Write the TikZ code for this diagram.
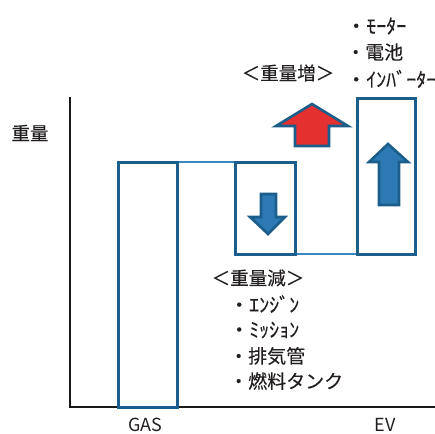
\documentclass[tikz,border=0pt]{standalone}
\usepackage{fontspec}
\newfontfamily\jp[FakeBold=0.15]{Noto Sans CJK JP}
\newfontfamily\lat{Noto Sans CJK JP}
\setmainfont{Noto Sans CJK JP}
\begin{document}
\begin{tikzpicture}[x=1pt,y=-1pt,
  box/.style={draw=boxblue,line width=3pt},
  thinline/.style={draw=lineblue,line width=1.6pt},
  blockarrow/.style={draw=boxblue,line width=2.6pt,line join=miter,fill=#1},
  lbl/.style={inner sep=0pt,text=txt,font=\jp\fontsize{19}{21}\selectfont,anchor=west},
  hw/.style={inner sep=0pt,text=txt,font=\jp\fontsize{20}{22}\selectfont,anchor=west},
  big/.style={inner sep=0pt,text=txt,font=\jp\fontsize{18.5}{20}\selectfont},
  axlbl/.style={inner sep=0pt,text=txt,font=\lat\fontsize{18}{20}\selectfont}]
\definecolor{boxblue}{HTML}{1B5E8C}
\definecolor{lineblue}{HTML}{3A86C0}
\definecolor{arrblue}{HTML}{2C79B4}
\definecolor{arrred}{HTML}{E53030}
\definecolor{txt}{HTML}{231F20}
\useasboundingbox (0,0) rectangle (435,433);
% axes
\coordinate (ytop) at (70,97);
\coordinate (orig) at (70,407);
\coordinate (xend) at (435,407);
\draw[line width=2pt,black!90] (ytop) -- (orig) -- (xend);
% boxes
\draw[thinline] (177,162) -- (235,162);
\draw[thinline] (295,254) -- (357,254);
\draw[box] (118,162) rectangle (177,407);
\draw[box] (235,162) rectangle (295,254);
\draw[box] (357,98) rectangle (415,254);
% red arrow
\draw[blockarrow=arrred] (312,104) -- (348,126) -- (329,126) -- (329,146) -- (295,146) -- (295,126) -- (276,126) -- cycle;
% blue up arrow
\draw[blockarrow=arrblue] (388,144) -- (408,162) -- (399,162) -- (399,205) -- (379,205) -- (379,162) -- (369,162) -- cycle;
% blue down arrow
\draw[blockarrow=arrblue] (261,194) -- (276,194) -- (276,217) -- (285,217) -- (268,234) -- (250,217) -- (261,217) -- cycle;
% texts
\node[big] (wt) at (30,133) {重量};
\node[big] (inc) at (288,73) {＜重量増＞};
\node[hw] (m1) at (346,26) {・ﾓｰﾀｰ};
\node[lbl] (m2) at (346,52) {・電池};
\node[hw] (m3) at (346,79) {・ｲﾝﾊﾞｰﾀｰ};
\node[big] (dec) at (258,278) {＜重量減＞};
\node[hw] (d1) at (229,304) {・ｴﾝｼﾞﾝ};
\node[hw] (d2) at (229,330) {・ﾐｯｼｮﾝ};
\node[lbl] (d3) at (229,356) {・排気管};
\node[lbl] (d4) at (229,381) {・燃料タンク};
\node[axlbl] (gas) at (145,425) {GAS};
\node[axlbl] (ev) at (385,425) {EV};
\end{tikzpicture}
\end{document}
